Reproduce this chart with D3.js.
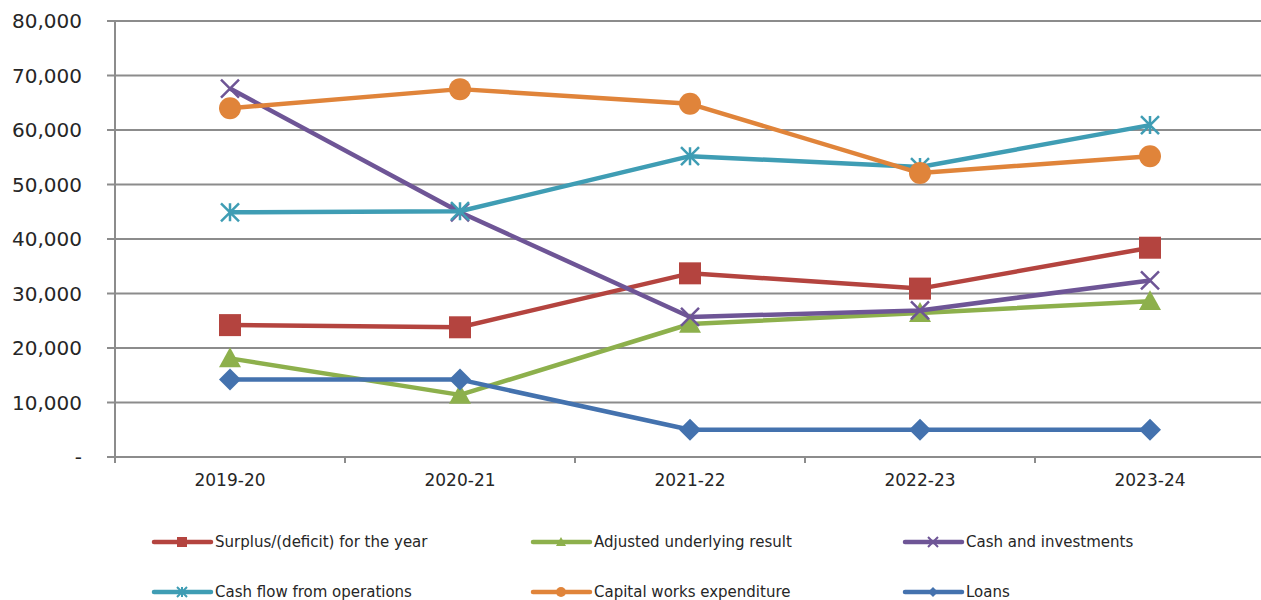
<!doctype html>
<html lang="en">
  <head>
    <meta charset="utf-8">
    <title>Financial performance</title>
    <script src="https://cdn.jsdelivr.net/npm/d3@7"></script>
    <style>
      body { margin: 0; background: #fff; }
      svg { display: block; font-family: 'DejaVu Sans', sans-serif; }
    </style>
  </head>
  <body>
    <svg width="1261" height="600"></svg>
    <script>
      // chart data
      var years = ['2019-20', '2020-21', '2021-22', '2022-23', '2023-24'];
      var surplus = [24200, 23800, 33700, 30900, 38400];
      var adjusted = [18100, 11400, 24400, 26400, 28600];
      var cashInvest = [67600, 44900, 25700, 26900, 32400];
      var cashFlow = [44900, 45100, 55200, 53200, 60900];
      var capWorks = [64000, 67500, 64800, 52100, 55200];
      var loans = [14200, 14200, 5000, 5000, 5000];
      var yTicks = [0, 10000, 20000, 30000, 40000, 50000, 60000, 70000, 80000];

      var series = [
        {name: 'Surplus/(deficit) for the year', values: surplus, color: '#b4443f', marker: 'square'},
        {name: 'Adjusted underlying result', values: adjusted, color: '#8db04c', marker: 'triangle'},
        {name: 'Cash and investments', values: cashInvest, color: '#6e5596', marker: 'x'},
        {name: 'Cash flow from operations', values: cashFlow, color: '#3f9db4', marker: 'star'},
        {name: 'Capital works expenditure', values: capWorks, color: '#e0843a', marker: 'circle'},
        {name: 'Loans', values: loans, color: '#4472ae', marker: 'diamond'}
      ];

      var svg = d3.select('svg'),
          plotL = 115, plotT = 21, plotB = 457, plotR = 1265;

      var x = d3.scaleBand().domain(years).range([plotL, plotR]);
      var y = d3.scaleLinear().domain([0, 80000]).range([plotB, plotT]);

      var grid = '#8c8c8c';

      // gridlines + y ticks
      svg.append('g').selectAll('line')
        .data(yTicks)
        .enter().append('line')
        .attr('x1', plotL - 8)
        .attr('x2', 1261)
        .attr('y1', function(d) { return y(d); })
        .attr('y2', function(d) { return y(d); })
        .attr('stroke', grid)
        .attr('stroke-width', 2);

      svg.append('g').selectAll('text')
        .data(yTicks)
        .enter().append('text')
        .attr('x', 82)
        .attr('y', function(d) { return y(d); })
        .attr('dy', '0.36em')
        .attr('text-anchor', 'end')
        .attr('font-size', 20)
        .attr('fill', '#262626')
        .text(function(d) { return d === 0 ? '-' : d3.format(',')(d); });

      // y axis line
      svg.append('line')
        .attr('x1', plotL).attr('x2', plotL)
        .attr('y1', plotT).attr('y2', plotB + 6)
        .attr('stroke', grid).attr('stroke-width', 2);

      // x tick marks between categories
      svg.append('g').selectAll('line')
        .data(years.slice(1))
        .enter().append('line')
        .attr('x1', function(d) { return x(d); })
        .attr('x2', function(d) { return x(d); })
        .attr('y1', plotB).attr('y2', plotB + 6)
        .attr('stroke', grid).attr('stroke-width', 2);

      svg.append('g').selectAll('text')
        .data(years)
        .enter().append('text')
        .attr('x', function(d) { return x(d) + x.bandwidth() / 2; })
        .attr('y', 486)
        .attr('text-anchor', 'middle')
        .attr('font-size', 17)
        .attr('fill', '#262626')
        .text(function(d) { return d; });

      function markerPath(type, s) {
        var h = s / 2;
        if (type === 'square') return d3.symbol(d3.symbolSquare, s * s)();
        if (type === 'circle') return d3.symbol(d3.symbolCircle, Math.PI * h * h)();
        if (type === 'triangle') return 'M0,' + (-h) + 'L' + h + ',' + h * 0.8 + 'L' + (-h) + ',' + h * 0.8 + 'Z';
        if (type === 'diamond') return 'M0,' + (-h) + 'L' + h + ',0L0,' + h + 'L' + (-h) + ',0Z';
        if (type === 'x') return 'M' + (-h) + ',' + (-h) + 'L' + h + ',' + h + 'M' + (-h) + ',' + h + 'L' + h + ',' + (-h);
        // asterisk
        return 'M' + (-h) + ',' + (-h) + 'L' + h + ',' + h + 'M' + (-h) + ',' + h + 'L' + h + ',' + (-h) +
               'M0,' + (-h) + 'L0,' + h;
      }
      function isStroke(type) { return type === 'x' || type === 'star'; }

      var line = d3.line()
        .x(function(d, i) { return x(years[i]) + x.bandwidth() / 2; })
        .y(function(d) { return y(d); });

      series.forEach(function(s) {
        var g = svg.append('g');
        g.append('path')
          .datum(s.values)
          .attr('fill', 'none')
          .attr('stroke', s.color)
          .attr('stroke-width', 4.5)
          .attr('stroke-linejoin', 'round')
          .attr('d', line);
        var size = isStroke(s.marker) ? 18 : 22;
        g.selectAll('path.m')
          .data(s.values)
          .enter().append('path')
          .attr('class', 'm')
          .attr('transform', function(d, i) {
            return 'translate(' + (x(years[i]) + x.bandwidth() / 2) + ',' + y(d) + ')';
          })
          .attr('d', markerPath(s.marker, size))
          .attr('fill', isStroke(s.marker) ? 'none' : s.color)
          .attr('stroke', s.color)
          .attr('stroke-width', isStroke(s.marker) ? 2.5 : 0);
      });

      // legend
      var legCols = [154, 533, 905], legRows = [542, 592];
      var legend = svg.append('g').selectAll('g')
        .data(series)
        .enter().append('g')
        .attr('transform', function(d, i) {
          return 'translate(' + legCols[i % 3] + ',' + legRows[Math.floor(i / 3)] + ')';
        });

      legend.append('line')
        .attr('x1', 0).attr('x2', 57)
        .attr('stroke', function(d) { return d.color; })
        .attr('stroke-width', 4.5)
        .attr('stroke-linecap', 'round');

      legend.append('path')
        .attr('transform', 'translate(28,0)')
        .attr('d', function(d) { return markerPath(d.marker, 10); })
        .attr('fill', function(d) { return isStroke(d.marker) ? 'none' : d.color; })
        .attr('stroke', function(d) { return d.color; })
        .attr('stroke-width', function(d) { return isStroke(d.marker) ? 2 : 0; });

      legend.append('text')
        .attr('x', 61)
        .attr('dy', '0.36em')
        .attr('font-size', 15)
        .attr('fill', '#262626')
        .text(function(d) { return d.name; });
    </script>
  </body>
</html>
